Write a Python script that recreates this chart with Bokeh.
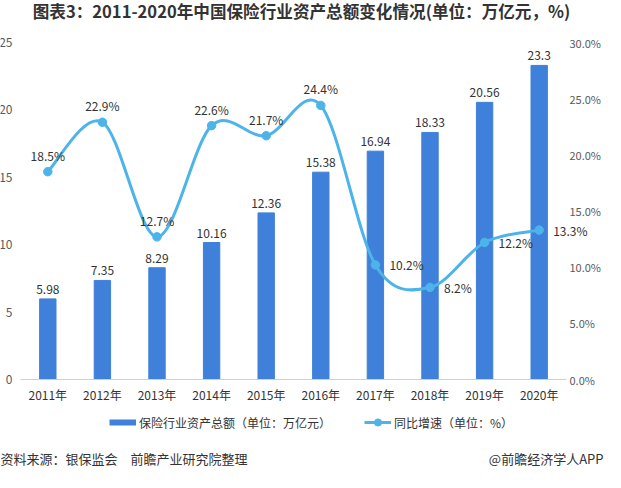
import numpy as np
from bokeh.plotting import figure
from bokeh.models import (Range1d, LinearAxis, FixedTicker, Legend, LegendItem,
                          Label, LabelSet, ColumnDataSource)
from bokeh.core.properties import value
from bokeh.embed import file_html
from bokeh.resources import INLINE

# ---------------- data ----------------
years = ["2011年", "2012年", "2013年", "2014年", "2015年",
         "2016年", "2017年", "2018年", "2019年", "2020年"]
assets = [5.98, 7.35, 8.29, 10.16, 12.36, 15.38, 16.94, 18.33, 20.56, 23.3]
asset_labels = ["5.98", "7.35", "8.29", "10.16", "12.36",
                "15.38", "16.94", "18.33", "20.56", "23.3"]
growth = [18.5, 22.9, 12.7, 22.6, 21.7, 24.4, 10.2, 8.2, 12.2, 13.3]
growth_labels = ["18.5%", "22.9%", "12.7%", "22.6%", "21.7%",
                 "24.4%", "10.2%", "8.2%", "12.2%", "13.3%"]
left_max = 25
left_ticks = [0, 5, 10, 15, 20, 25]
right_max = 30
right_ticks = [0, 5, 10, 15, 20, 25, 30]
right_tick_labels = ["0.0%", "5.0%", "10.0%", "15.0%", "20.0%", "25.0%", "30.0%"]

title_text = "图表3：2011-2020年中国保险行业资产总额变化情况(单位：万亿元，%)"
legend_bar = "保险行业资产总额（单位：万亿元）"
legend_line = "同比增速（单位：%）"
source_text = "资料来源：银保监会　前瞻产业研究院整理"
brand_text = "@前瞻经济学人APP"

# ---------------- style / layout ----------------
FONT = "Noto Sans CJK SC"
BAR = "#3f80da"
LINE = "#4db4ea"
TXT = "#333333"
AX = "#595959"
W, H = 605, 470                      # canvas
PL, PT, PW, PH = 20, 42, 546, 337    # plotting area inside the canvas

n = len(years)
xs = list(range(n))
px_x = PW / n                        # pixels per category
x_lo = -0.5 - PL / px_x
x_hi = x_lo + W / px_x
py_l = PH / left_max
py_r = PH / right_max
below = H - PT - PH

p = figure(width=W, height=H,
           x_range=Range1d(x_lo, x_hi),
           y_range=Range1d(-below / py_l, left_max + PT / py_l),
           output_backend="svg", toolbar_location=None,
           min_border_left=0, min_border_right=0, min_border_top=0,
           min_border_bottom=0)
p.extra_y_ranges = {"pct": Range1d(-below / py_r, right_max + PT / py_r)}
p.outline_line_color = None
p.xgrid.visible = False
p.ygrid.visible = False

# x axis at y = 0
p.xaxis.fixed_location = 0
p.xaxis.bounds = (-0.5, n - 0.5)
p.xaxis.ticker = FixedTicker(ticks=xs)
p.xaxis.major_label_overrides = {i: y for i, y in enumerate(years)}
p.xaxis.axis_line_color = "#d0d0d0"
p.xaxis.major_tick_line_color = None
p.xaxis.major_tick_out = 0
p.xaxis.minor_tick_line_color = None
p.xaxis.major_label_text_font = FONT
p.xaxis.major_label_text_font_size = "12px"
p.xaxis.major_label_text_color = TXT
p.xaxis.major_label_standoff = 6

# left axis at the left edge of the plotting area
p.yaxis.fixed_location = -0.5
p.yaxis.ticker = FixedTicker(ticks=left_ticks)
p.yaxis.axis_line_color = None
p.yaxis.major_tick_line_color = None
p.yaxis.major_tick_out = 0
p.yaxis.minor_tick_line_color = None
p.yaxis.major_label_text_font = FONT
p.yaxis.major_label_text_font_size = "12px"
p.yaxis.major_label_text_color = AX
p.yaxis.major_label_standoff = 8

# right axis at the right edge of the plotting area
raxis = LinearAxis(y_range_name="pct", ticker=FixedTicker(ticks=right_ticks),
                   fixed_location=n - 0.5)
raxis.major_label_overrides = {t: l for t, l in zip(right_ticks, right_tick_labels)}
raxis.axis_line_color = None
raxis.major_tick_line_color = None
raxis.major_tick_out = 0
raxis.minor_tick_line_color = None
raxis.major_label_text_font = FONT
raxis.major_label_text_font_size = "11px"
raxis.major_label_text_color = AX
raxis.major_label_standoff = 3
p.add_layout(raxis, "right")

# bars
src = ColumnDataSource(dict(x=xs, y=assets, lab=asset_labels))
p.vbar(x="x", top="y", width=0.3, color=BAR, source=src)
p.add_layout(LabelSet(x="x", y="y", text="lab", source=src, text_align="center",
                      text_baseline="bottom", y_offset=5, text_font=value(FONT),
                      text_font_size="12px", text_color=TXT))

# smooth line (Catmull-Rom bezier through the data points)
g = np.array(growth, dtype=float)
xa = np.array(xs, dtype=float)
x0, y0, x1, y1, cx0, cy0, cx1, cy1 = [], [], [], [], [], [], [], []
for i in range(n - 1):
    pi, pn = i - 1 if i > 0 else i, i + 2 if i + 2 < n else i + 1
    x0.append(xa[i]); y0.append(g[i]); x1.append(xa[i + 1]); y1.append(g[i + 1])
    cx0.append(xa[i] + (xa[i + 1] - xa[pi]) / 6)
    cy0.append(g[i] + (g[i + 1] - g[pi]) / 6)
    cx1.append(xa[i + 1] - (xa[pn] - xa[i]) / 6)
    cy1.append(g[i + 1] - (g[pn] - g[i]) / 6)
p.bezier(x0=x0, y0=y0, x1=x1, y1=y1, cx0=cx0, cy0=cy0, cx1=cx1, cy1=cy1,
         line_color=LINE, line_width=3, y_range_name="pct")
lsrc = ColumnDataSource(dict(x=xs, y=growth))
pts = p.scatter(x="x", y="y", size=8.5, color=LINE, source=lsrc, y_range_name="pct")

# point labels: first six above the points, the rest to the right
up = ColumnDataSource(dict(x=xs[:6], y=growth[:6], lab=growth_labels[:6]))
rt = ColumnDataSource(dict(x=xs[6:], y=growth[6:], lab=growth_labels[6:]))
p.add_layout(LabelSet(x="x", y="y", text="lab", source=up, y_range_name="pct",
                      text_align="center", text_baseline="bottom", y_offset=8,
                      text_font=value(FONT), text_font_size="12px", text_color=TXT))
p.add_layout(LabelSet(x="x", y="y", text="lab", source=rt, y_range_name="pct",
                      text_align="left", text_baseline="middle", x_offset=14,
                      y_offset=0, text_font=value(FONT), text_font_size="12px",
                      text_color=TXT))

# title
p.add_layout(Label(x=301, y=H - 10, x_units="screen", y_units="screen",
                   text=title_text, text_font=FONT, text_font_size="16.6px",
                   text_font_style="bold", text_color=TXT, text_align="center",
                   text_baseline="middle"))

# legend: hidden renderers on the same data supply the icons
bar_icon = p.line(x="x", y="y", source=src, line_color=BAR, line_width=6,
                  visible=False)
line_icon = p.line(x="x", y="y", source=lsrc, line_color=LINE, line_width=3,
                   y_range_name="pct", visible=False)
legend = Legend(items=[LegendItem(label=legend_bar, renderers=[bar_icon]),
                       LegendItem(label=legend_line, renderers=[line_icon, pts])],
                orientation="horizontal", location=(109, 39),
                label_text_font=FONT, label_text_font_size="12px",
                label_text_color=TXT, glyph_width=27, glyph_height=18,
                label_standoff=3, spacing=33, border_line_color=None,
                background_fill_alpha=0, inactive_fill_alpha=0,
                padding=0, margin=0)
p.add_layout(legend)

# footer
p.add_layout(Label(x=0, y=12, x_units="screen", y_units="screen",
                   text=source_text, text_font=FONT, text_font_size="13px",
                   text_color=TXT, text_baseline="middle"))
p.add_layout(Label(x=W - 2, y=12, x_units="screen", y_units="screen",
                   text=brand_text, text_font=FONT, text_font_size="13px",
                   text_color=TXT, text_baseline="middle", text_align="right"))

open("out.html", "w").write(file_html(p, INLINE))
